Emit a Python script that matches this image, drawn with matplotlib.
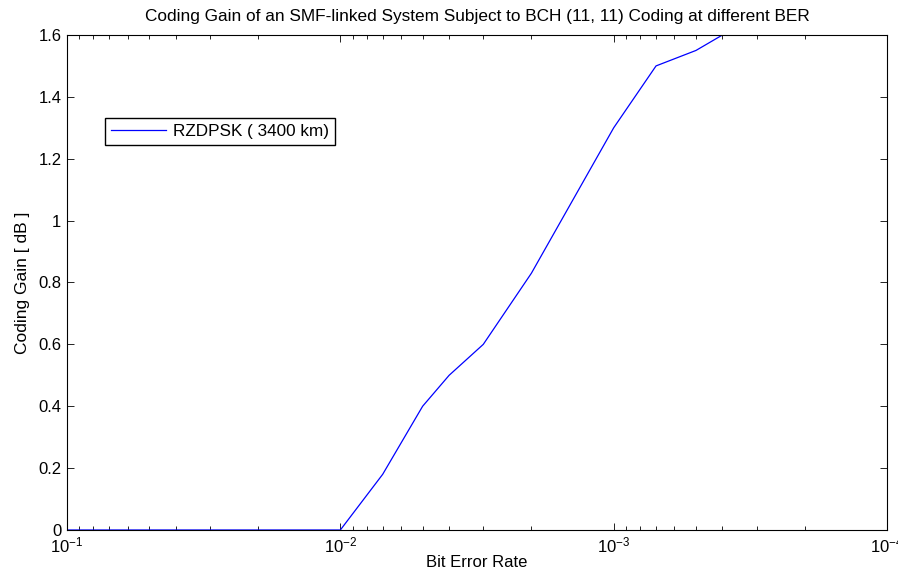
import matplotlib
matplotlib.use('Agg')
import matplotlib.pyplot as plt
from matplotlib.ticker import FormatStrFormatter, LogLocator

plt.rcParams['font.family'] = ['Liberation Sans', 'DejaVu Sans']
plt.rcParams['mathtext.fontset'] = 'custom'
plt.rcParams['mathtext.rm'] = 'Liberation Sans'
plt.rcParams['mathtext.it'] = 'Liberation Sans'
plt.rcParams['axes.unicode_minus'] = False

# data
ber = [1e-1, 1e-2, 7e-3, 5e-3, 4e-3, 3e-3, 2e-3, 1e-3, 7e-4, 5e-4, 4e-4]
gain = [0, 0, 0.18, 0.40, 0.50, 0.60, 0.83, 1.30, 1.50, 1.55, 1.60]
series_name = 'RZDPSK ( 3400 km)'

fig = plt.figure(figsize=(8.98, 5.8), dpi=100)
ax = fig.add_axes([0.0746, 0.0862, 0.9132, 0.8535])

ax.plot(ber, gain, color='blue', lw=0.9, label=series_name)

ax.set_xscale('log')
ax.set_xlim(1e-1, 1e-4)
ax.set_ylim(0, 1.6)
ax.set_yticks([0, 0.2, 0.4, 0.6, 0.8, 1, 1.2, 1.4, 1.6])
ax.yaxis.set_major_formatter(FormatStrFormatter('%g'))
ax.xaxis.set_major_locator(LogLocator(base=10, numticks=10))
ax.xaxis.set_minor_locator(LogLocator(base=10, subs=range(2, 10), numticks=20))

ax.tick_params(which='both', direction='in', top=True, right=True,
               labelsize=12, width=0.6, colors='black')
ax.tick_params(which='major', length=5)
ax.tick_params(which='minor', length=3)
ax.tick_params(axis='x', pad=4)
ax.tick_params(axis='y', pad=4)
for s in ax.spines.values():
    s.set_linewidth(0.8)

ax.set_title('Coding Gain of an SMF-linked System Subject to BCH (11, 11) Coding at different BER',
             fontsize=12.4, pad=10)
ax.set_xlabel('Bit Error Rate', fontsize=12, labelpad=0)
ax.set_ylabel('Coding Gain [ dB ]', fontsize=12.5, labelpad=6)

leg = ax.legend(loc='upper left', bbox_to_anchor=(0.0463, 0.832), fontsize=12.3,
                fancybox=False, framealpha=1, edgecolor='black', borderpad=0.35,
                handlelength=3.2, handletextpad=0.45, borderaxespad=0)
leg.get_frame().set_linewidth(1.0)

fig.savefig('out.png', dpi=100)
